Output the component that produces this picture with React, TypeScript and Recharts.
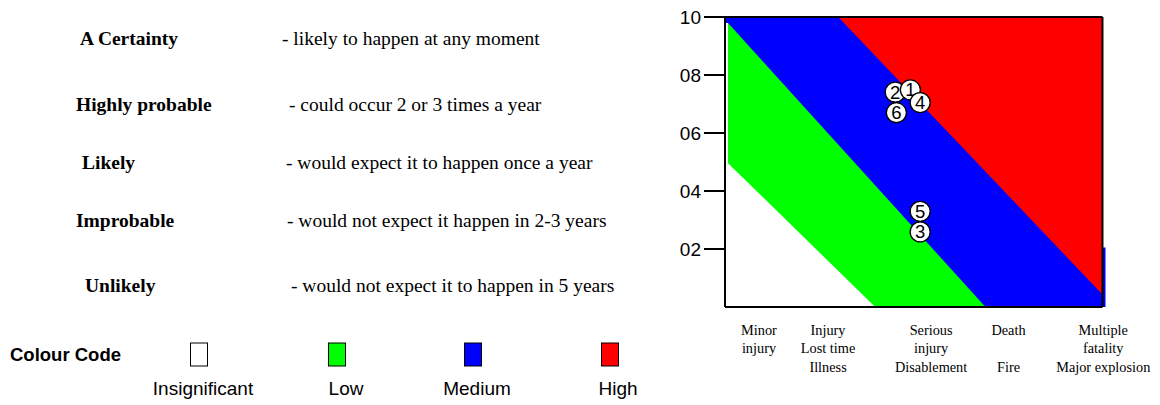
import { Area, ComposedChart, ReferenceLine, Scatter, XAxis, YAxis } from 'recharts';

const probabilityLevels = ['A Certainty', 'Highly probable', 'Likely', 'Improbable', 'Unlikely'];
const probabilityNotes = [
  '- likely to happen at any moment',
  '- could occur 2 or 3 times a year',
  '- would expect it to happen once a year',
  '- would not expect it happen in 2-3 years',
  '- would not expect it to happen in 5 years',
];
const colourNames = ['Insignificant', 'Low', 'Medium', 'High'];
const colourFills = ['#ffffff', '#00ff00', '#0000ff', '#ff0000'];

const severityTicks = [0.9, 2.73, 5.46, 7.51, 10.02];
const severityLabels = [
  ['Minor', 'injury', ''],
  ['Injury', 'Lost time', 'Illness'],
  ['Serious', 'injury', 'Disablement'],
  ['Death', '', 'Fire'],
  ['Multiple', 'fatality', 'Major explosion'],
];
const likelihoodTicks = [2, 4, 6, 8, 10];

// band edges (upper boundary of each colour, drawn from the top band down)
const highEdge = [
  { x: 0, y: 10 },
  { x: 10, y: 10 },
];
const mediumEdge = [
  { x: 0, y: 10 },
  { x: 3.0, y: 10 },
  { x: 10, y: 0.43 },
  { x: 10, y: 2.05 },
  { x: 10.08, y: 2.05 },
];
const lowEdge = [
  { x: 0.08, y: 9.79 },
  { x: 6.9, y: 0 },
];
const insignificantEdge = [
  { x: 0, y: 9.79 },
  { x: 0.08, y: 9.79 },
  { x: 0.08, y: 4.96 },
  { x: 3.98, y: 0 },
];

const hazards = [
  { id: 2, x: 4.51, y: 7.41 },
  { id: 1, x: 4.91, y: 7.49 },
  { id: 4, x: 5.17, y: 7.05 },
  { id: 6, x: 4.54, y: 6.7 },
  { id: 5, x: 5.17, y: 3.3 },
  { id: 3, x: 5.17, y: 2.59 },
];

// layout of the left hand key
const labelX = [80, 76, 82, 76, 85];
const noteX = [282, 289, 286, 287, 291];
const rowBaseline = [45, 111, 169, 227, 292];
const swatchCentre = [199, 337, 473, 610];
const swatchLabelCentre = [203, 346, 477, 618];

const serif = '"Liberation Serif", "Times New Roman", serif';
const sans = '"Liberation Sans", Arial, sans-serif';

function SeverityTick(props: any) {
  const { x, y, payload } = props;
  const i = severityTicks.indexOf(payload.value);
  const lines = severityLabels[i] || [];
  return (
    <g>
      {lines.map((t, k) =>
        t ? (
          <text
            key={k}
            x={x}
            y={y + 28 + k * 18.3}
            textAnchor="middle"
            fontFamily={serif}
            fontSize={14.3}
            fill="#000"
          >
            {t}
          </text>
        ) : null,
      )}
    </g>
  );
}

function HazardMarker(props: any) {
  const { cx, cy, payload } = props;
  return (
    <g>
      <circle cx={cx} cy={cy} r={10} fill="#fff" stroke="#000" strokeWidth={1.3} />
      <text
        x={cx}
        y={cy + 6.5}
        textAnchor="middle"
        fontFamily={sans}
        fontSize={18.5}
        fill="#000"
      >
        {payload.id}
      </text>
    </g>
  );
}

function Key() {
  return (
    <svg width={660} height={405} style={{ position: 'absolute', left: 0, top: 0 }}>
      {probabilityLevels.map((label, i) => (
        <g key={label}>
          <text x={labelX[i]} y={rowBaseline[i]} fontFamily={serif} fontWeight="bold" fontSize={19.5} fill="#000">
            {label}
          </text>
          <text x={noteX[i]} y={rowBaseline[i]} fontFamily={serif} fontSize={19.5} fill="#000">
            {probabilityNotes[i]}
          </text>
        </g>
      ))}
      <text x={10} y={361} fontFamily={sans} fontWeight="bold" fontSize={18.5} fill="#000">
        Colour Code
      </text>
      {colourNames.map((name, i) => (
        <g key={name}>
          <rect
            x={swatchCentre[i] - 8.5}
            y={343}
            width={17}
            height={23}
            fill={colourFills[i]}
            stroke="#000"
            strokeWidth={1}
          />
          <text
            x={swatchLabelCentre[i]}
            y={395}
            textAnchor="middle"
            fontFamily={sans}
            fontSize={19}
            fill="#000"
          >
            {name}
          </text>
        </g>
      ))}
    </svg>
  );
}

export default function App() {
  const frame = { stroke: '#000', strokeWidth: 2 };
  return (
    <div style={{ position: 'absolute', left: 0, top: 0, width: 1160, height: 405, background: '#fff' }}>
      <Key />
      <div style={{ position: 'absolute', left: 660, top: 0 }}>
        <ComposedChart width={500} height={405} margin={{ top: 17, right: 54.5, bottom: 18, left: 0 }}>
          <XAxis
            type="number"
            dataKey="x"
            domain={[0, 10.08]}
            ticks={severityTicks}
            tick={<SeverityTick />}
            axisLine={false}
            tickLine={false}
            tickSize={0}
            tickMargin={0}
            height={80}
            interval={0}
          />
          <YAxis
            type="number"
            dataKey="y"
            domain={[0, 10]}
            ticks={likelihoodTicks}
            tickFormatter={(v) => String(v).padStart(2, '0')}
            tick={{ fill: '#000', fontSize: 19, fontFamily: sans }}
            axisLine={frame}
            tickLine={frame}
            tickSize={21}
            tickMargin={3}
            width={65}
          />
          <Area data={highEdge} dataKey="y" type="linear" fill="#ff0000" fillOpacity={1} stroke="none" isAnimationActive={false} />
          <Area data={mediumEdge} dataKey="y" type="linear" fill="#0000ff" fillOpacity={1} stroke="none" isAnimationActive={false} />
          <Area data={lowEdge} dataKey="y" type="linear" fill="#00ff00" fillOpacity={1} stroke="none" isAnimationActive={false} />
          <Area data={insignificantEdge} dataKey="y" type="linear" fill="#ffffff" fillOpacity={1} stroke="none" isAnimationActive={false} />
          <ReferenceLine segment={[{ x: 0, y: 10 }, { x: 10, y: 10 }]} {...frame} />
          <ReferenceLine segment={[{ x: 10, y: 0 }, { x: 10, y: 10 }]} {...frame} />
          <ReferenceLine segment={[{ x: 0, y: 0 }, { x: 10, y: 0 }]} {...frame} />
          <Scatter data={hazards} dataKey="y" shape={<HazardMarker />} isAnimationActive={false} />
        </ComposedChart>
      </div>
    </div>
  );
}
